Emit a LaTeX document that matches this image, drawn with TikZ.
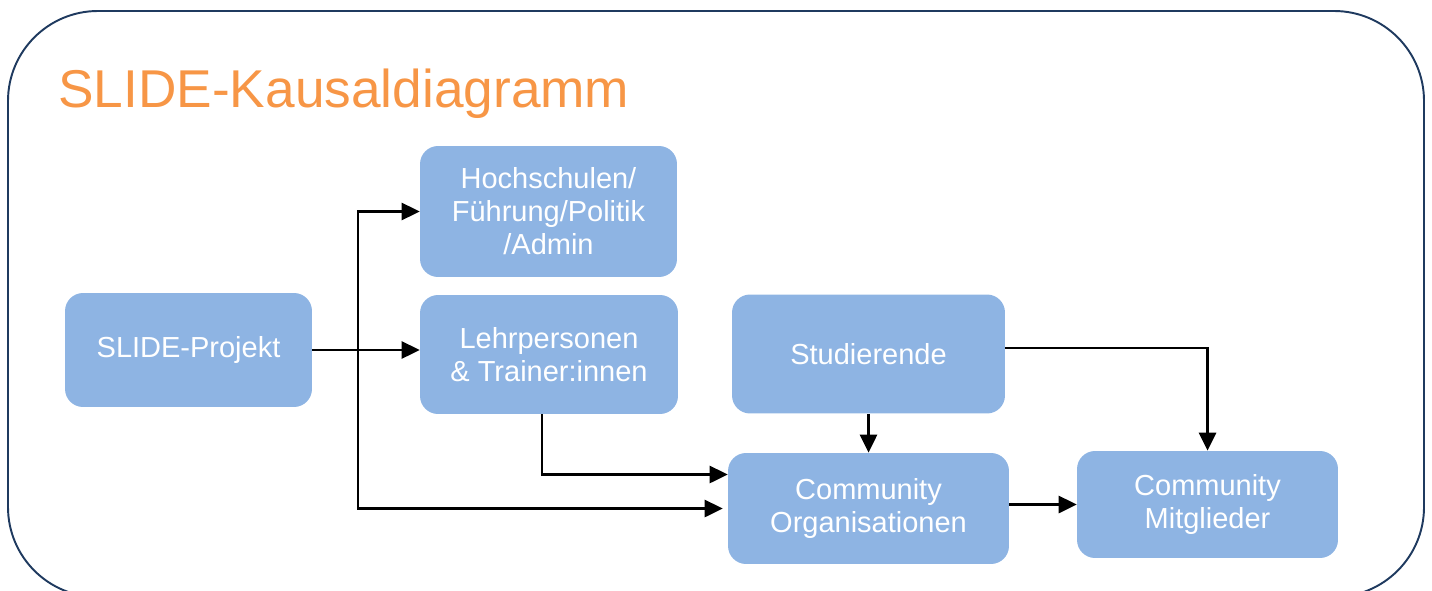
\documentclass[tikz,border=0pt]{standalone}
\usepackage{fontspec}
\setmainfont{Liberation Sans}
\usetikzlibrary{arrows.meta,calc}
\definecolor{boxblue}{HTML}{8EB4E3}
\definecolor{titleorange}{HTML}{F79646}
\definecolor{framenavy}{HTML}{1F3A5F}
\begin{document}
\begin{tikzpicture}[x=0.02cm,y=-0.02cm,
        block/.style={fill=boxblue,text=white,rounded corners=0.36cm,align=center,inner sep=0pt,
            font=\fontsize{16.5}{18.8}\selectfont},
        arr/.style={line width=1.6pt,-{Triangle[length=0.36cm,width=0.34cm]}}]
    \useasboundingbox (0,0) rectangle (1432,591);
    % frame and heading
    \draw [framenavy,line width=1.1pt,rounded corners=1.8cm] (8,11) rectangle (1424,597);
    \node [anchor=base west,inner sep=0pt,text=titleorange,font=\fontsize{30.3}{36}\selectfont] (title) at (58,108) {SLIDE-Kausaldiagramm};
    % boxes
    \node [block,minimum width=4.94cm,minimum height=2.28cm] (proj) at (188.5,350) {SLIDE-Projekt};
    \node [block,minimum width=5.14cm,minimum height=2.62cm] (hoch) at (548.5,211.5) {Hochschulen/\\Führung/Politik\\/Admin};
    \node [block,minimum width=5.16cm,minimum height=2.38cm] (lehr) at (549,354.5) {Lehrpersonen\\\& Trainer:innen};
    \node [block,minimum width=5.46cm,minimum height=2.38cm] (stud) at (868.5,354) {Studierende};
    \node [block,minimum width=5.62cm,minimum height=2.22cm] (org) at (868.5,508.5) {Community\\Organisationen};
    \node [block,minimum width=5.22cm,minimum height=2.14cm] (mitg) at (1207.5,504.5) {Community\\Mitglieder};
    % connectors
    \coordinate (split) at (358,350);
    \draw [arr] (proj) -- (proj -| lehr.west);
    \draw [arr] (split) |- (hoch.west);
    \draw [arr] (split) |- ($(org.west)+(-5,0)$);
    \draw [arr] ($(lehr.south)+(-7,0)$) |- ($(org.west)+(0,-34)$);
    \draw [arr] (stud.south) -- (org.north);
    \draw [arr] ($(stud.east)+(0,-6)$) -| (mitg.north);
    \draw [arr] (org.east |- mitg.west) -- (mitg.west);
\end{tikzpicture}
\end{document}
